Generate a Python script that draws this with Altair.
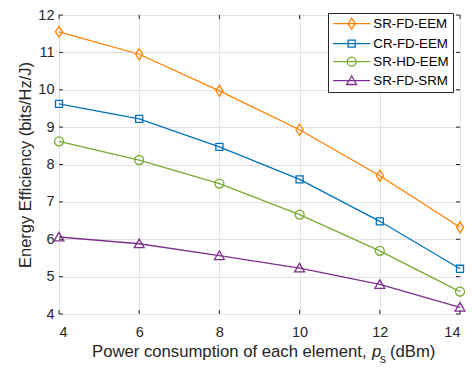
import altair as alt
import pandas as pd

x_vals = [4, 6, 8, 10, 12, 14]
series_names = ["SR-FD-EEM", "CR-FD-EEM", "SR-HD-EEM", "SR-FD-SRM"]
sr_fd_eem = [11.55, 10.95, 9.97, 8.93, 7.70, 6.32]
cr_fd_eem = [9.62, 9.22, 8.47, 7.60, 6.48, 5.21]
sr_hd_eem = [8.62, 8.12, 7.49, 6.66, 5.69, 4.60]
sr_fd_srm = [6.06, 5.88, 5.56, 5.23, 4.79, 4.18]
colors = ["#FF8000", "#0072BD", "#77AC30", "#7E2F8E"]
y_ticks = [4, 5, 6, 7, 8, 9, 10, 11, 12]
x_ticks = [4, 6, 8, 10, 12, 14]

W, H = 401, 299
TL = 4  # inward tick length

rows = []
for name, vals in zip(series_names, [sr_fd_eem, cr_fd_eem, sr_hd_eem, sr_fd_srm]):
    for xv, yv in zip(x_vals, vals):
        rows.append({"x": xv, "y": yv, "series": name, "series_p": name})
df = pd.DataFrame(rows)

# marker shapes (unit coords, 1 unit = 5.5 px at size 121)
pt_shapes = [
    "M0,-1L0.65,0L0,1L-0.65,0Z",
    "M-0.64,-0.64H0.64V0.64H-0.64Z",
    "M0.82,0A0.82,0.82,0,1,1,-0.82,0A0.82,0.82,0,1,1,0.82,0Z",
    "M0,-0.85L0.9,0.7L-0.9,0.7Z",
]
leg_shapes = [
    "M-1,0H5.73M2.36,-1L3.01,0L2.36,1L1.71,0Z",
    "M-1,0H5.73M1.72,-0.64H3.0V0.64H1.72Z",
    "M-1,0H5.73M3.18,0A0.82,0.82,0,1,1,1.54,0A0.82,0.82,0,1,1,3.18,0Z",
    "M-1,0H5.73M2.36,-0.85L3.26,0.7L1.46,0.7Z",
]

xs = alt.X("x:Q", scale=alt.Scale(domain=[4, 14], nice=False),
           axis=alt.Axis(values=x_ticks, title=None, labelPadding=11))
ys = alt.Y("y:Q", scale=alt.Scale(domain=[4, 12], nice=False),
           axis=alt.Axis(values=y_ticks, title="Energy Efficiency (bits/Hz/J)",
                         labelPadding=5, titlePadding=4))

col_p = alt.Color("series_p:N", scale=alt.Scale(domain=series_names, range=colors), legend=None)

base = alt.Chart(df)
lines = base.mark_line(strokeWidth=1.3).encode(x=xs, y=ys, color=col_p, detail="series_p:N")
points = base.mark_point(filled=False, size=121, strokeWidth=1.3, opacity=1).encode(
    x=xs, y=ys, color=col_p,
    shape=alt.Shape("series_p:N", scale=alt.Scale(domain=series_names, range=pt_shapes), legend=None),
)
legend_layer = base.transform_filter("datum.x < 0").mark_point(
    filled=False, size=121, strokeWidth=1.3, opacity=1).encode(
    x=xs, y=ys,
    color=alt.Color("series:N", scale=alt.Scale(domain=series_names, range=colors),
                    legend=alt.Legend(title=None)),
    shape=alt.Shape("series:N", scale=alt.Scale(domain=series_names, range=leg_shapes),
                    legend=alt.Legend(title=None)),
)

# inward tick marks (MATLAB style)
xt = alt.Chart(pd.DataFrame({"x": x_ticks}))
yt = alt.Chart(pd.DataFrame({"y": y_ticks}))
tick_col = "#262626"
xt_bot = xt.mark_rule(color=tick_col, strokeWidth=1).encode(x=xs, y=alt.value(H), y2=alt.value(H - TL))
xt_top = xt.mark_rule(color=tick_col, strokeWidth=1).encode(x=xs, y=alt.value(0), y2=alt.value(TL))
yt_left = yt.mark_rule(color=tick_col, strokeWidth=1).encode(y=ys, x=alt.value(0), x2=alt.value(TL))
yt_right = yt.mark_rule(color=tick_col, strokeWidth=1).encode(y=ys, x=alt.value(W), x2=alt.value(W - TL))

title_df = pd.DataFrame({"t": ["Power consumption of each element,", "p", "s", "(dBm)"]})
tbase = alt.Chart(title_df)


def tpiece(txt, xpos, ypos, size=16.7, style="normal"):
    return tbase.transform_filter(alt.datum.t == txt).mark_text(
        align="left", baseline="middle", fontSize=size, fontStyle=style,
        font="Liberation Sans", color="#262626").encode(
        text="t:N", x=alt.value(xpos), y=alt.value(ypos))


t1 = tpiece("Power consumption of each element,", 33, 337)
t2 = tpiece("p", 313, 337, style="italic")
t3 = tpiece("s", 321, 344, size=12)
t4 = tpiece("(dBm)", 331, 337)

chart = alt.layer(
    xt_bot, xt_top, yt_left, yt_right, lines, points, legend_layer, t1, t2, t3, t4
).resolve_scale(
    color="independent", shape="independent"
).properties(
    width=W, height=H,
    autosize=alt.AutoSizeParams(type="none"),
    padding={"left": 51, "top": 7, "right": 6, "bottom": 56},
).configure_view(
    stroke="#262626", strokeWidth=1
).configure_axis(
    domain=False, ticks=False, grid=True, gridColor="#e3e3e3", gridWidth=1,
    labelFont="Liberation Sans", labelFontSize=14.5, labelColor="#262626",
    titleFont="Liberation Sans", titleFontSize=16.5, titleColor="#262626",
    titleFontWeight="normal",
).configure_legend(
    orient="none", legendX=269, legendY=-2,
    strokeColor="#262626", fillColor="white", padding=4,
    labelFont="Liberation Sans", labelFontSize=13.3, labelColor="#000000",
    rowPadding=4, labelOffset=28, symbolStrokeWidth=1.3, symbolSize=121,
)

chart.save("out.html", embed_options={"renderer": "svg", "actions": False})
